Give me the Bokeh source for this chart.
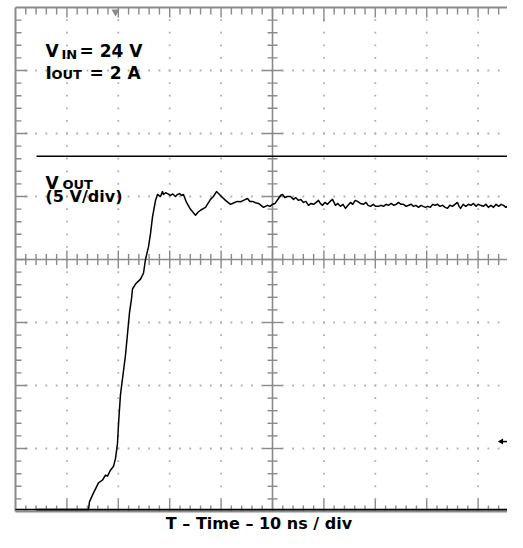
import numpy as np
from bokeh.plotting import figure
from bokeh.models import Range1d
from bokeh.core.properties import value
from bokeh.embed import file_html
from bokeh.resources import INLINE

# ---- measured waveform (time in ns, Vout in V) ----
time_ns = [0.0, 14.2, 14.4, 15.18, 16.15, 16.93, 17.51, 17.9, 18.48, 19.07, 19.46, 19.84,
           20.04, 20.43, 21.4, 22.18, 22.57, 22.76, 23.35, 24.32, 24.9, 25.29, 25.88, 26.26,
           26.65, 27.24, 27.63, 28.2, 28.6, 28.79, 29.2, 29.57, 30.16, 30.6, 31.13, 31.5,
           31.91, 32.3, 32.68, 33.27, 34.05, 35.02, 35.5, 35.99, 36.96, 37.94, 38.5, 39.11,
           39.88, 40.86, 41.83, 42.5, 43.19, 43.8, 44.36, 45.14, 45.6, 46.11, 46.7, 47.28,
           48.25,
           49.03, 49.5, 50.0, 50.5, 51.17, 51.6, 51.95, 52.4, 52.9, 53.5, 54.09, 54.5, 55.06,
           55.5, 56.03, 56.5, 57.0, 57.5, 58.0, 58.5, 58.95, 59.3, 59.73, 60.2, 60.7, 61.2,
           61.67, 62.26, 62.7, 63.2, 63.7, 64.2, 64.7, 65.18, 65.6, 66.1, 66.54, 67.1, 67.7,
           68.2, 68.6, 69.07, 69.6, 70.1, 70.62, 71.1, 71.6, 72.1, 72.57, 73.1, 73.6, 74.1,
           74.5, 75.0, 75.49, 76.0, 76.5, 77.0, 77.43, 77.9, 78.4, 78.9, 79.3, 79.77, 80.2,
           80.7, 81.2, 81.6, 82.1, 82.6, 83.1, 83.6, 84.05, 84.5, 85.0, 85.5, 85.99, 86.3,
           86.58, 87.1, 87.6, 88.13, 88.6, 89.1, 89.6, 90.0, 90.47, 91.0, 91.5, 92.0, 92.5,
           93.0, 93.5, 94.0, 94.5, 94.94, 95.4, 95.9, 96.4, 96.89, 97.4, 97.9, 98.4, 98.83]
vout_v = [0.15, 0.15, 0.78, 1.48, 2.27, 2.5, 2.89, 2.81, 3.28, 3.59, 4.22, 5.39,
          6.95, 9.3, 12.42, 15.78, 16.88, 17.66, 18.05, 18.44, 18.91, 20.0, 21.02, 22.03,
          23.36, 24.69, 25.16, 25.0, 25.39, 25.16, 25.3, 25.23, 25.08, 25.2, 25.0, 25.16,
          25.23, 25.08, 25.16, 24.53, 23.98, 23.52, 23.75, 23.91, 24.14, 24.77, 25.0, 25.39,
          25.08, 24.69, 24.38, 24.5, 24.61, 24.58, 24.69, 24.84, 24.6, 24.61, 24.5, 24.45,
          24.14,
          24.30, 24.22, 24.38, 24.45, 24.84, 25.10, 25.16, 24.92, 25.00, 25.00, 24.77, 24.92, 24.69,
          24.77, 24.53, 24.61, 24.30, 24.45, 24.38, 24.53, 24.69, 24.45, 24.30, 24.53, 24.38, 24.61,
          24.77, 24.30, 24.45, 24.22, 24.38, 24.06, 24.30, 24.53, 24.38, 24.69, 24.61, 24.45, 24.38,
          24.53, 24.30, 24.22, 24.38, 24.22, 24.22, 24.30, 24.22, 24.38, 24.30, 24.45, 24.30, 24.38,
          24.53, 24.38, 24.38, 24.22, 24.30, 24.38, 24.22, 24.30, 24.14, 24.30, 24.22, 24.14, 24.22,
          24.14, 24.38, 24.30, 24.38, 24.22, 24.30, 24.14, 24.06, 24.30, 24.22, 24.38, 24.53, 24.22,
          24.06, 24.38, 24.22, 24.38, 24.30, 24.45, 24.22, 24.38, 24.30, 24.22, 24.38, 24.14, 24.30,
          24.14, 24.38, 24.22, 24.38, 24.30, 24.14, 24.30, 24.38, 24.22, 24.38, 24.22, 24.30, 24.30]

# cursors
cursor_levels_v = [28.2, 0.15]
cursor_span_ns = [4.09, 95.9]
trigger_level_v = 5.55
trigger_pos_ns = 19.46

# scope screen
NS_PER_DIV = 10
V_PER_DIV = 5
N_XDIV = 10
N_YDIV = 8
X_MAX = NS_PER_DIV * N_XDIV
Y_MAX = V_PER_DIV * N_YDIV
X_CENTER = X_MAX / 2
Y_CENTER = Y_MAX / 2

PX_X = 5.14   # px per ns
PX_Y = 12.6   # px per V

W, H = 507, 532
X_START = -15 / PX_X
X_END = X_START + W / PX_X
Y_END = Y_MAX + 7 / PX_Y
Y_START = Y_END - H / PX_Y

p = figure(width=W, height=H, x_range=Range1d(X_START, X_END), y_range=Range1d(Y_START, Y_END),
           output_backend="svg", toolbar_location=None, x_axis_type=None, y_axis_type=None,
           min_border=0)
p.min_border_left = p.min_border_right = p.min_border_top = p.min_border_bottom = 0
p.outline_line_color = None
p.background_fill_color = "white"
p.border_fill_color = "white"

GRID = "#b0b0b0"
FRAME = "#8a8a8a"

# dotted graticule
dx, dy = [], []
for xm in range(NS_PER_DIV, X_MAX, NS_PER_DIV):
    if xm == X_CENTER:
        continue
    for yv in np.arange(1, Y_MAX, 1):
        dx.append(xm); dy.append(yv)
for ym in range(V_PER_DIV, Y_MAX, V_PER_DIV):
    if ym == Y_CENTER:
        continue
    for xv in np.arange(2, X_MAX, 2):
        dx.append(xv); dy.append(ym)
p.scatter(dx, dy, marker="square", size=1.8, fill_color=GRID, line_color=None)

# borders
top_v = Y_MAX
p.segment(x0=[0, 0, 0], y0=[0, 0, top_v], x1=[0, X_MAX, X_MAX], y1=[top_v, 0, top_v],
          line_color=FRAME, line_width=2)

# center axes
p.segment(x0=[0, X_CENTER], y0=[Y_CENTER, 0], x1=[X_MAX, X_CENTER], y1=[Y_CENTER, Y_MAX],
          line_color=FRAME, line_width=1.6)

tx0, ty0, tx1, ty1 = [], [], [], []
for xv in np.arange(2, X_MAX, 2):
    major = (xv % NS_PER_DIV == 0)
    h = (9 if major else 5.5) / PX_Y
    tx0.append(xv); ty0.append(Y_CENTER - h); tx1.append(xv); ty1.append(Y_CENTER + h)
    lt = (14 if xv == 60 else (10 if major else 7)) / PX_Y
    tx0.append(xv); ty0.append(top_v); tx1.append(xv); ty1.append(top_v - lt)
    lb = (12 if major else 6) / PX_Y
    tx0.append(xv); ty0.append(0); tx1.append(xv); ty1.append(lb)
for yv in np.arange(1, Y_MAX, 1):
    major = (yv % V_PER_DIV == 0)
    h = (10 if major else 5) / PX_X
    tx0.append(X_CENTER - h); ty0.append(yv); tx1.append(X_CENTER + h); ty1.append(yv)
    ll = (12 if major else 6) / PX_X
    tx0.append(0); ty0.append(yv); tx1.append(ll); ty1.append(yv)
p.segment(x0=tx0, y0=ty0, x1=tx1, y1=ty1, line_color=FRAME, line_width=1.4)

# trigger position marker (top) and trigger level marker (right)
p.scatter([trigger_pos_ns], [39.65], marker="inverted_triangle", size=8, fill_color=FRAME, line_color=None)
arrow_x = X_END - 1.2
p.scatter([arrow_x], [trigger_level_v], marker="triangle", angle=np.pi / 2, size=6,
          fill_color="black", line_color=None)
p.segment(x0=[arrow_x], y0=[trigger_level_v], x1=[X_END], y1=[trigger_level_v], line_color="black", line_width=1.5)

# cursors
p.segment(x0=[cursor_span_ns[0]] * 2, y0=cursor_levels_v, x1=[cursor_span_ns[1]] * 2, y1=cursor_levels_v,
          line_color="black", line_width=1.6)

# waveform
p.line(time_ns, vout_v, line_color="black", line_width=1.5, line_join="round")

# texts
FONT = value("DejaVu Sans")
def txt(x, y, s, size, align="left", baseline="alphabetic"):
    p.text(x=[x], y=[y], text=[s], text_font=FONT, text_font_style="bold",
           text_font_size=f"{size}px", text_color="black", text_align=align,
           text_baseline=baseline)

txt(5.84, 36.56, "V", 17)
txt(8.95, 36.25, "IN", 13)
txt(12.45, 36.56, "= 24 V", 17)
txt(5.84, 34.84, "I", 17)
txt(7.0, 34.65, "OUT", 13)
txt(14.4, 34.84, "= 2 A", 17)
txt(5.84, 26.09, "V", 17)
txt(9.14, 25.94, "OUT", 13)
txt(5.84, 25.0, "(5 V/div)", 16)
# bottom caption: vertically centred in the strip below the screen
txt(47.37, -0.95, "T \u2013 Time \u2013 10 ns / div", 16, align="center", baseline="middle")

open("out.html", "w").write(file_html(p, INLINE))
